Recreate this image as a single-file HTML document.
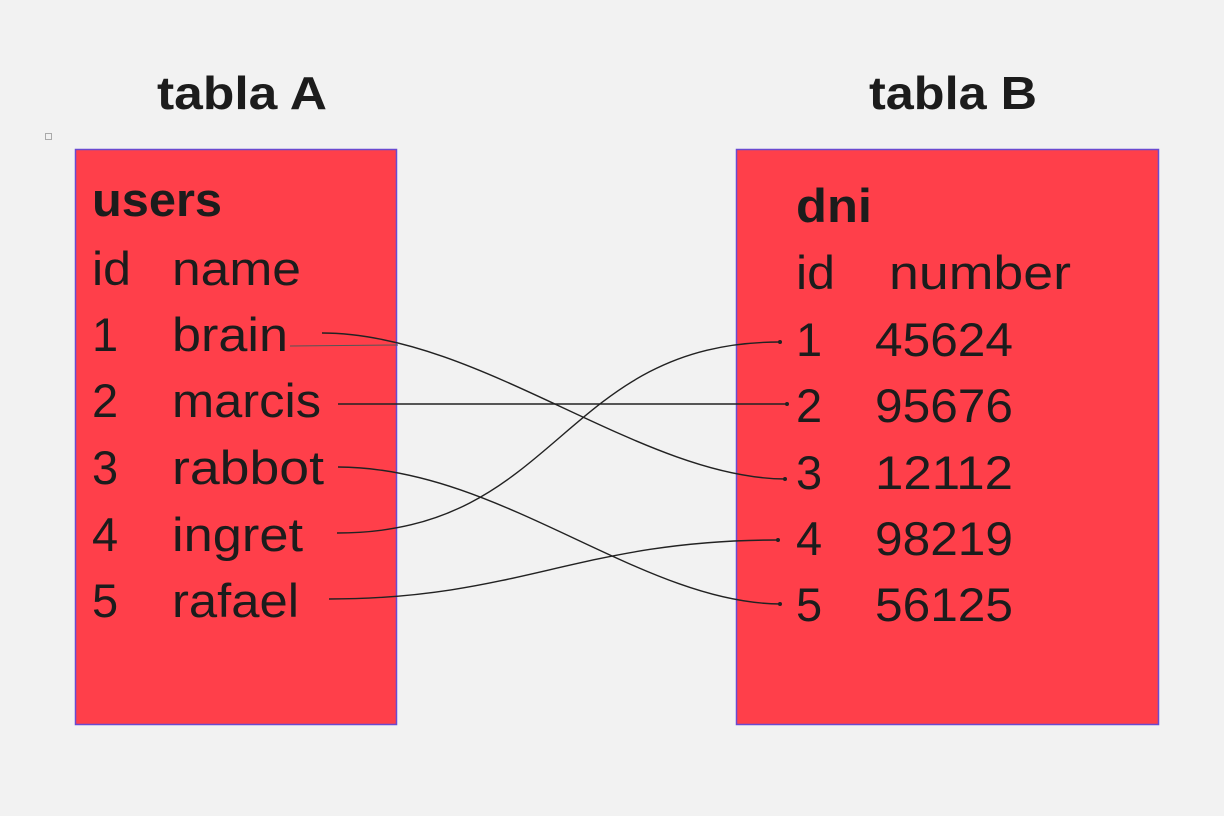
<!DOCTYPE html>
<html><head><meta charset="utf-8"><style>
html,body{margin:0;padding:0;background:#f2f2f2;}
svg{display:block;}
text{font-family:"Liberation Sans",sans-serif;fill:#1c1c1c;}
</style></head><body>
<svg width="1224" height="816" viewBox="0 0 1224 816">
<rect x="0" y="0" width="1224" height="816" fill="#f2f2f2"/>
<rect x="45.5" y="133.5" width="6" height="6" fill="none" stroke="#aaa" stroke-width="1"/>
<text x="157" y="109" font-size="46" font-weight="bold" textLength="170" lengthAdjust="spacingAndGlyphs">tabla A</text>
<text x="869" y="109" font-size="46" font-weight="bold" textLength="168" lengthAdjust="spacingAndGlyphs">tabla B</text>
<rect x="75.5" y="149.5" width="321" height="575" fill="#ff3f4a" stroke="#6a4ad0" stroke-width="1.5"/>
<rect x="736.5" y="149.5" width="422" height="575" fill="#ff3f4a" stroke="#6a4ad0" stroke-width="1.5"/>
<g font-size="47">
<text x="92" y="216" font-weight="bold" textLength="130" lengthAdjust="spacingAndGlyphs">users</text>
<text x="92" y="285" textLength="39" lengthAdjust="spacingAndGlyphs">id</text><text x="172" y="285" textLength="129" lengthAdjust="spacingAndGlyphs">name</text>
<text x="92" y="351">1</text><text x="172" y="351" textLength="116" lengthAdjust="spacingAndGlyphs">brain</text>
<text x="92" y="417">2</text><text x="172" y="417" textLength="149" lengthAdjust="spacingAndGlyphs">marcis</text>
<text x="92" y="484">3</text><text x="172" y="484" textLength="152" lengthAdjust="spacingAndGlyphs">rabbot</text>
<text x="92" y="551">4</text><text x="172" y="551" textLength="131" lengthAdjust="spacingAndGlyphs">ingret</text>
<text x="92" y="617">5</text><text x="172" y="617" textLength="127" lengthAdjust="spacingAndGlyphs">rafael</text>
<text x="796" y="222" font-weight="bold" textLength="76" lengthAdjust="spacingAndGlyphs">dni</text>
<text x="796" y="289" textLength="39" lengthAdjust="spacingAndGlyphs">id</text><text x="889" y="289" textLength="182" lengthAdjust="spacingAndGlyphs">number</text>
<text x="796" y="356">1</text><text x="875" y="356" textLength="138" lengthAdjust="spacingAndGlyphs">45624</text>
<text x="796" y="422">2</text><text x="875" y="422" textLength="138" lengthAdjust="spacingAndGlyphs">95676</text>
<text x="796" y="489">3</text><text x="875" y="489" textLength="138" lengthAdjust="spacingAndGlyphs">12112</text>
<text x="796" y="555">4</text><text x="875" y="555" textLength="138" lengthAdjust="spacingAndGlyphs">98219</text>
<text x="796" y="621">5</text><text x="875" y="621" textLength="138" lengthAdjust="spacingAndGlyphs">56125</text>
</g>
<g fill="none" stroke="#222" stroke-width="1.4">
<path d="M290 346 L398 345" stroke="#555" stroke-width="1"/>
<path d="M322 333 C480 333 640 478 785 479"/>
<path d="M338 404 L787 404"/>
<path d="M338 467 C500 467 640 603 780 604"/>
<path d="M337 533 C560 533 560 342 780 342"/>
<path d="M329 599 C520 599 580 540 778 540"/>
</g>
<g fill="#222">
<circle cx="785" cy="479" r="2"/><circle cx="787" cy="404" r="2"/><circle cx="780" cy="604" r="2"/><circle cx="780" cy="342" r="2"/><circle cx="778" cy="540" r="2"/>
</g>
</svg>
</body></html>
